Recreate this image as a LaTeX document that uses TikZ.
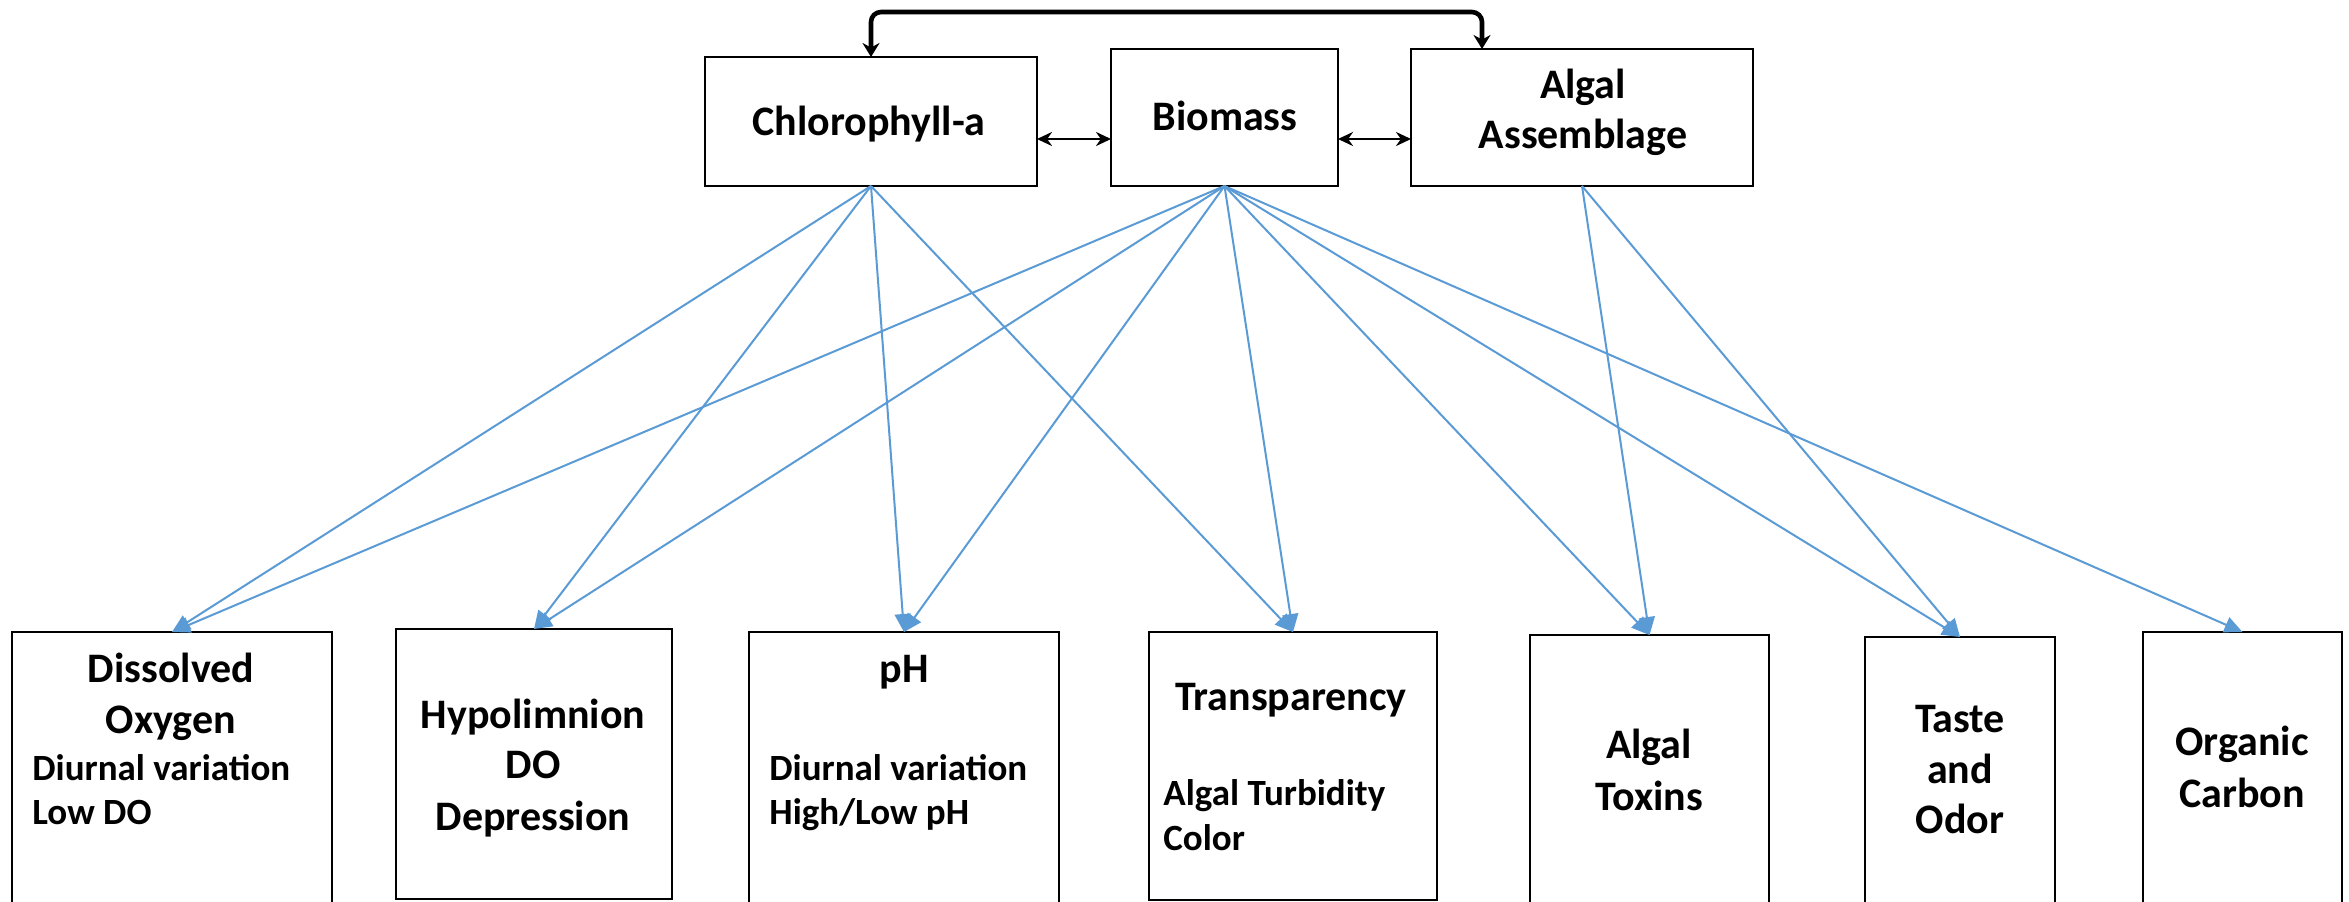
\documentclass[tikz,border=0pt]{standalone}
\usepackage{fontspec}
\setmainfont{Carlito}
\usetikzlibrary{arrows.meta,calc}
\definecolor{linkblue}{HTML}{5B9BD5}
\tikzset{
  box/.style={draw=black, line width=1pt, fill=none, inner sep=0pt, outer sep=0pt},
  head/.style={inner sep=0pt, anchor=base, font=\fontsize{21}{25}\selectfont\bfseries},
  sub/.style={inner sep=0pt, anchor=base west, font=\fontsize{18.5}{22}\selectfont\bfseries},
  link/.style={draw=linkblue, line width=1pt, -{Triangle[length=9pt,width=8pt]}},
  dbl/.style={draw=black, line width=1.3pt, {Stealth[length=7.5pt,width=7pt]}-{Stealth[length=7.5pt,width=7pt]}},
  toplink/.style={draw=black, line width=2.3pt, rounded corners=5pt,
    {Stealth[length=7pt,width=8.5pt]}-{Stealth[length=7pt,width=8.5pt]}}
}
\begin{document}
\begin{tikzpicture}[x=0.5pt,y=-0.5pt]
\clip (0,0) rectangle (2349,901);
\fill[white] (0,0) rectangle (2349,901);
% top boxes
\node[box, minimum width=166pt, minimum height=64.5pt] (chl) at (871,121.5) {};
\node[box, minimum width=113.5pt, minimum height=68.5pt] (bio) at (1224.5,117.5) {};
\node[box, minimum width=171pt, minimum height=68.5pt] (alg) at (1582,117.5) {};
% bottom boxes
\node[box, minimum width=160pt, minimum height=154pt] (do) at (172,786) {};
\node[box, minimum width=138pt, minimum height=135pt] (hyp) at (534,764) {};
\node[box, minimum width=155pt, minimum height=154pt] (ph) at (904,786) {};
\node[box, minimum width=144pt, minimum height=134pt] (tr) at (1293,766) {};
\node[box, minimum width=119.5pt, minimum height=152.5pt] (tox) at (1649.5,787.5) {};
\node[box, minimum width=95pt, minimum height=151.5pt] (tas) at (1960,788.5) {};
\node[box, minimum width=99.5pt, minimum height=154pt] (org) at (2242.5,786) {};
% texts top
\node[head] (tchl) at (869,135) {Chlorophyll-a};
\node[head] (tbio) at (1225,130) {Biomass};
\node[head] (talg1) at (1583,98) {Algal};
\node[head] (talg2) at (1583,148) {Assemblage};
% texts bottom
\node[head] (tdo1) at (171,682) {Dissolved};
\node[head] (tdo2) at (171,733) {Oxygen};
\node[sub] (tdo3) at (32,780) {Diurnal variation};
\node[sub] (tdo4) at (32,824) {Low DO};
\node[head] (thyp1) at (533,728) {Hypolimnion};
\node[head] (thyp2) at (533,778) {DO};
\node[head] (thyp3) at (533,830) {Depression};
\node[head] (tph1) at (904,682) {pH};
\node[sub] (tph2) at (769,780) {Diurnal variation};
\node[sub] (tph3) at (769,824) {High/Low pH};
\node[head] (ttr1) at (1291,710) {Transparency};
\node[sub] (ttr2) at (1163,805) {Algal Turbidity};
\node[sub] (ttr3) at (1163,850) {Color};
\node[head] (ttox1) at (1649,758) {Algal};
\node[head] (ttox2) at (1649,810) {Toxins};
\node[head] (ttas1) at (1960,732) {Taste};
\node[head] (ttas2) at (1960,783) {and};
\node[head] (ttas3) at (1960,833) {Odor};
\node[head] (torg1) at (2242,755) {Organic};
\node[head] (torg2) at (2242,807) {Carbon};
% black connectors
\draw[dbl] ($(chl.east)+(0,17.5)$) coordinate (d1) -- (d1 -| bio.west);
\draw[dbl] ($(bio.east)+(0,21.5)$) coordinate (d2) -- (d2 -| alg.west);
\draw[toplink] (chl.north) |- ($(alg.north west)+(71,-37)$) -- ($(alg.north west)+(71,0)$);
% blue links
\foreach \t in {do,hyp,ph,tr} \draw[link] (chl.south) -- (\t.north);
\foreach \t in {do,hyp,ph,tr,tox,tas,org} \draw[link] (bio.south) -- (\t.north);
\foreach \t in {tox,tas} \draw[link] (alg.south) -- (\t.north);
\end{tikzpicture}
\end{document}
